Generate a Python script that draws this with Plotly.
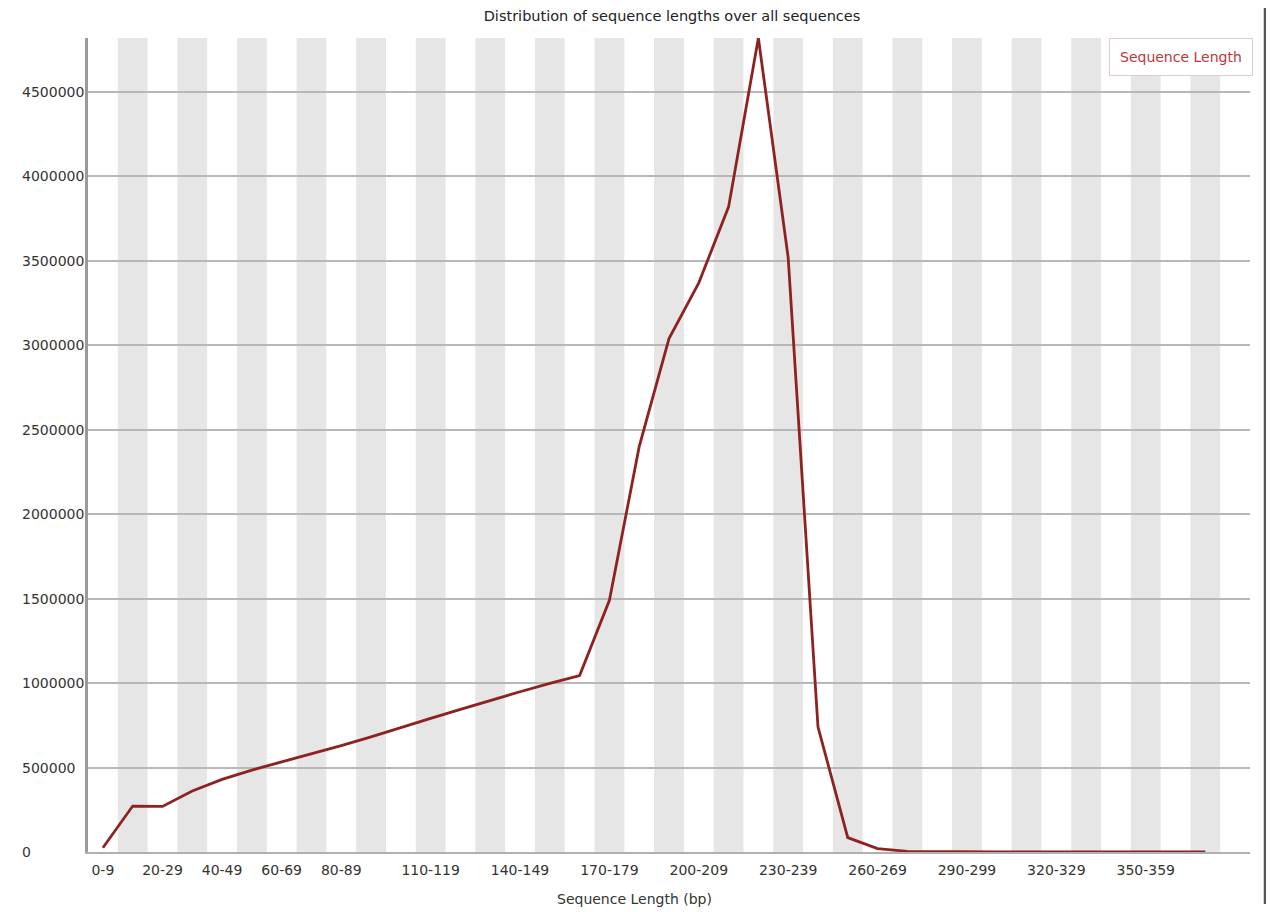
import plotly.graph_objects as go

# ---- data ----
categories = [f"{i*10}-{i*10+9}" for i in range(38)]
counts = [
    25000, 272000, 270000, 361000, 430000, 485000, 534000, 580000, 630000, 682000,
    738000, 791000, 845000, 899000, 949000, 998000, 1045000, 1490000, 2400000, 3040000,
    3370000, 3820000, 4820000, 3520000, 741000, 85000, 20000, 4000, 2000, 1500,
    1200, 1000, 900, 800, 700, 600, 500, 400,
]
x_tick_labels = ["0-9", "20-29", "40-49", "60-69", "80-89", "110-119", "140-149",
                 "170-179", "200-209", "230-239", "260-269", "290-299", "320-329", "350-359"]
y_tick_values = [0, 500000, 1000000, 1500000, 2000000, 2500000, 3000000, 3500000, 4000000, 4500000]
series_name = "Sequence Length"
title_text = "Distribution of sequence lengths over all sequences"
x_title = "Sequence Length (bp)"

# the page body adds an 8px offset; figure is sized to fit the 1274x912 window
OFF = 8
W, H = 1274 - OFF, 912 - OFF
L, T = 88 - OFF, 38 - OFF
PR, PB = 1250 - OFF, 852 - OFF          # plot right / bottom in figure px
R, B = W - PR, H - PB
plot_w = W - L - R
plot_h = H - T - B
FONT = "DejaVu Sans"


def px_x(page_x):
    return (page_x - OFF - L) / plot_w


def px_y(page_y):
    return (PB - (page_y - OFF)) / plot_h


fig = go.Figure()
fig.add_trace(go.Scatter(
    x=categories, y=counts, mode="lines", name=series_name,
    line=dict(color="#8e2222", width=2.8), showlegend=False,
))

shapes = []
# alternating stripes for every other category
for i in range(1, len(categories) + 1, 2):
    shapes.append(dict(type="rect", xref="x", yref="paper", x0=i - 0.5, x1=i + 0.5,
                       y0=0, y1=1, fillcolor="#e6e6e6", line=dict(width=0), layer="below"))
# window edge on the right
shapes.append(dict(type="line", xref="paper", yref="paper",
                   x0=px_x(1265), x1=px_x(1265), y0=px_y(904), y1=px_y(8),
                   line=dict(color="#555555", width=2.5)))

annotations = []
# y tick labels, left aligned like the original
for v in y_tick_values:
    annotations.append(dict(text=str(v), xref="paper", yref="y", x=px_x(20), y=v,
                            xanchor="left", yanchor="middle", showarrow=False,
                            font=dict(family=FONT, size=14, color="#333333")))
# x axis title (centred on the image)
annotations.append(dict(text=x_title, xref="paper", yref="paper", x=px_x(634),
                        y=px_y(899), xanchor="center", yanchor="middle",
                        showarrow=False, font=dict(family=FONT, size=14, color="#333333")))
# legend box
annotations.append(dict(text=series_name, xref="paper", yref="paper",
                        x=px_x(1253), y=px_y(38), xanchor="right", yanchor="top",
                        showarrow=False, bgcolor="white", bordercolor="#dccccc", borderwidth=1,
                        borderpad=10, font=dict(family=FONT, size=14, color="#c0363c")))

fig.update_layout(
    width=W, height=H,
    margin=dict(l=L, r=R, t=T, b=B),
    paper_bgcolor="white", plot_bgcolor="white",
    title=dict(text=title_text, x=(672 - OFF) / W, xref="container", xanchor="center",
               y=1 - (16 - OFF) / H, yref="container", yanchor="middle",
               font=dict(family=FONT, size=14.5, color="#222222")),
    xaxis=dict(type="category", range=[-0.5, len(categories) + 0.5],
               tickmode="array", tickvals=x_tick_labels, ticktext=x_tick_labels,
               showgrid=False, showline=True, linecolor="#b0b0b0", linewidth=1.5,
               ticks="", ticklabelstandoff=4,
               tickfont=dict(family=FONT, size=14, color="#333333"),
               zeroline=False),
    yaxis=dict(range=[0, max(counts)], tickmode="array", tickvals=y_tick_values,
               showticklabels=False, showgrid=True, gridcolor="#b8b8b8", gridwidth=1.5,
               showline=True, linecolor="#9a9a9a", linewidth=3, zeroline=False, ticks=""),
    shapes=shapes, annotations=annotations,
    font=dict(family=FONT),
)

fig.write_html("out.html")
